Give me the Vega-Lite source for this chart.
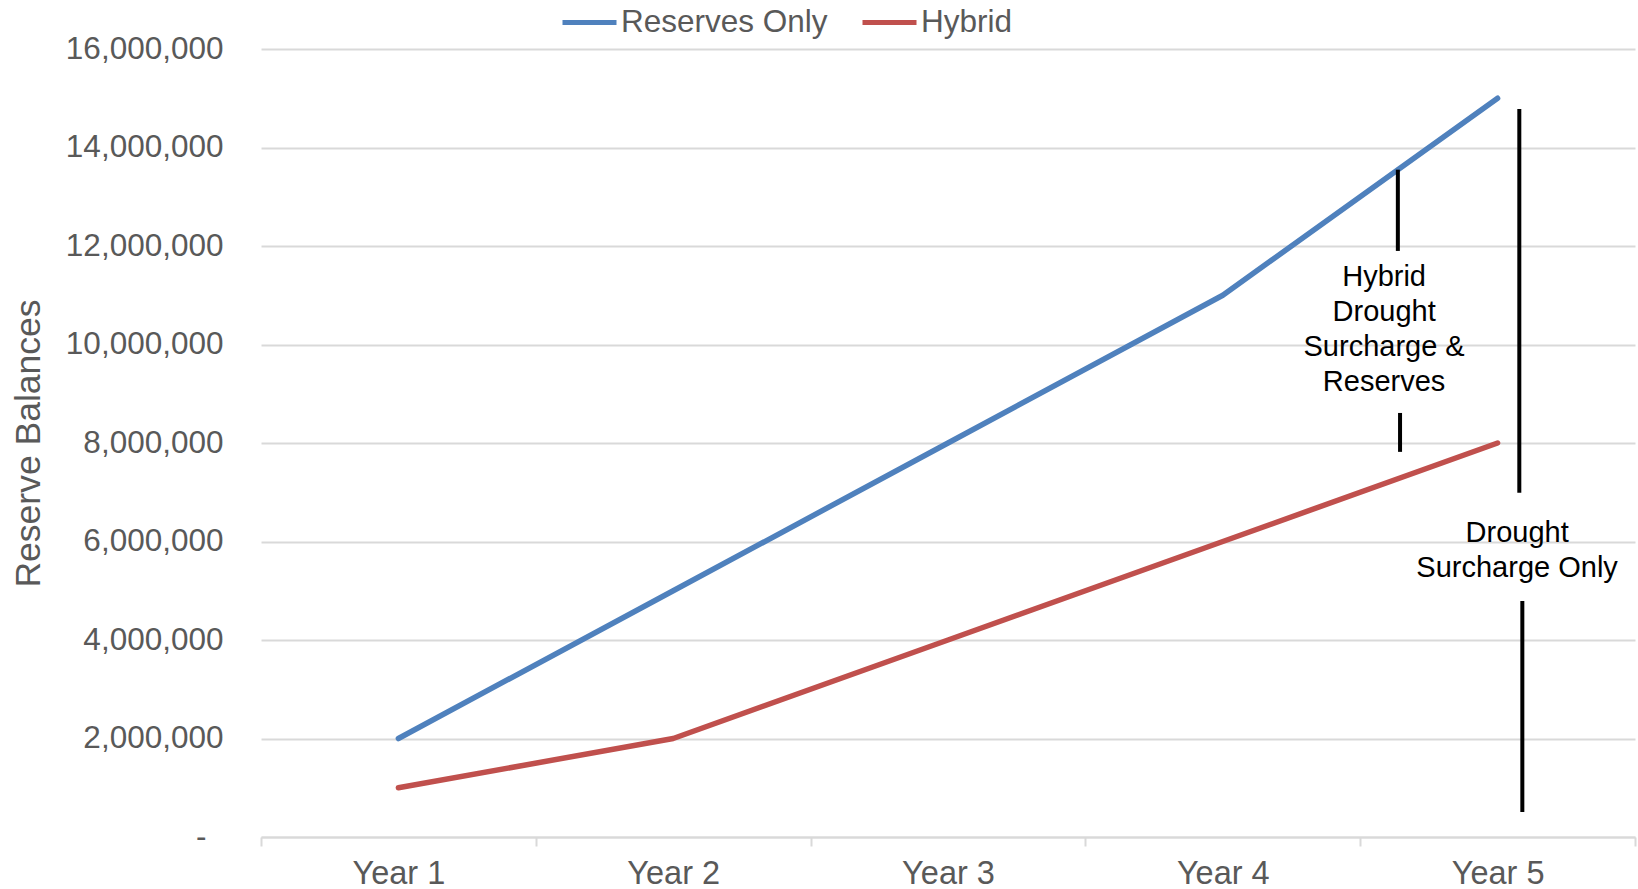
{
  "$schema": "https://vega.github.io/schema/vega-lite/v6.json",
  "width": 1374,
  "height": 788,
  "autosize": "none",
  "padding": {"left": 261, "top": 49, "right": 3, "bottom": 52},
  "background": "white",
  "config": {"view": {"stroke": null}, "font": "Liberation Sans"},
  "datasets": {
    "series": [
      {"year": 1, "balance": 2000000, "series": "Reserves Only"},
      {"year": 2, "balance": 5000000, "series": "Reserves Only"},
      {"year": 3, "balance": 8000000, "series": "Reserves Only"},
      {"year": 4, "balance": 11000000, "series": "Reserves Only"},
      {"year": 5, "balance": 15000000, "series": "Reserves Only"},
      {"year": 1, "balance": 1000000, "series": "Hybrid"},
      {"year": 2, "balance": 2000000, "series": "Hybrid"},
      {"year": 3, "balance": 4000000, "series": "Hybrid"},
      {"year": 4, "balance": 6000000, "series": "Hybrid"},
      {"year": 5, "balance": 8000000, "series": "Hybrid"}
    ],
    "rules": [
      {"x": 4.637, "y": 13550000, "y2": 11900000},
      {"x": 4.645, "y": 8610000, "y2": 7820000},
      {"x": 5.079, "y": 14780000, "y2": 6990000},
      {"x": 5.09, "y": 4790000, "y2": 510000}
    ],
    "notes": [
      {"x": 4.587, "y": 11370000, "label": "Hybrid\nDrought\nSurcharge &\nReserves"},
      {"x": 5.071, "y": 6170000, "label": "Drought\nSurcharge Only"}
    ]
  },
  "layer": [
    {
      "data": {"name": "series"},
      "mark": {"type": "line", "strokeWidth": 5.5, "strokeCap": "round", "strokeJoin": "round"},
      "encoding": {
        "x": {
          "field": "year",
          "type": "quantitative",
          "scale": {"domain": [0.5, 5.5], "nice": false, "zero": false},
          "axis": {
            "title": null,
            "values": [0.5, 1, 1.5, 2, 2.5, 3, 3.5, 4, 4.5, 5, 5.5],
            "labelExpr": "datum.value % 1 === 0 ? 'Year ' + datum.value : ''",
            "tickOpacity": {"condition": {"test": "datum.value % 1 === 0", "value": 0}, "value": 1},
            "grid": false,
            "domainColor": "#d9d9d9",
            "domainWidth": 2,
            "tickColor": "#d9d9d9",
            "tickWidth": 2,
            "tickSize": 9,
            "labelFontSize": 32.5,
            "labelColor": "#595959",
            "labelPadding": 11,
            "labelFlush": false,
            "labelOverlap": false
          }
        },
        "y": {
          "field": "balance",
          "type": "quantitative",
          "scale": {"domain": [0, 16000000], "nice": false},
          "axis": {
            "title": "Reserve Balances",
            "values": [0, 2000000, 4000000, 6000000, 8000000, 10000000, 12000000, 14000000, 16000000],
            "labelExpr": "datum.value === 0 ? '-' : format(datum.value, ',')",
            "labelPadding": {"condition": {"test": "datum.value === 0", "value": 55}, "value": 38},
            "ticks": false,
            "domain": false,
            "grid": true,
            "gridColor": "#d9d9d9",
            "gridWidth": 2,
            "labelFontSize": 31.5,
            "labelColor": "#595959",
            "titleFontSize": 35.5,
            "titleColor": "#595959",
            "titleFontWeight": "normal",
            "titlePadding": 19
          }
        },
        "color": {
          "field": "series",
          "type": "nominal",
          "scale": {"domain": ["Reserves Only", "Hybrid"], "range": ["#4F81BD", "#C0504D"]},
          "legend": {
            "title": null,
            "orient": "none",
            "direction": "horizontal",
            "legendX": 299,
            "legendY": -56,
            "symbolType": "stroke",
            "symbolStrokeWidth": 5,
            "symbolSize": 2916,
            "labelFontSize": 31.5,
            "labelLimit": 0,
            "labelColor": "#595959",
            "labelOffset": 2,
            "columnPadding": 24
          }
        }
      }
    },
    {
      "data": {"name": "rules"},
      "mark": {"type": "rule", "color": "black", "strokeWidth": 4},
      "encoding": {
        "x": {"field": "x", "type": "quantitative"},
        "y": {"field": "y", "type": "quantitative"},
        "y2": {"field": "y2"}
      }
    },
    {
      "data": {"name": "notes"},
      "mark": {"type": "text", "lineBreak": "\n", "fontSize": 29, "color": "black", "align": "center", "baseline": "middle", "lineHeight": 35},
      "encoding": {
        "x": {"field": "x", "type": "quantitative"},
        "y": {"field": "y", "type": "quantitative"},
        "text": {"field": "label", "type": "nominal"}
      }
    }
  ]
}
